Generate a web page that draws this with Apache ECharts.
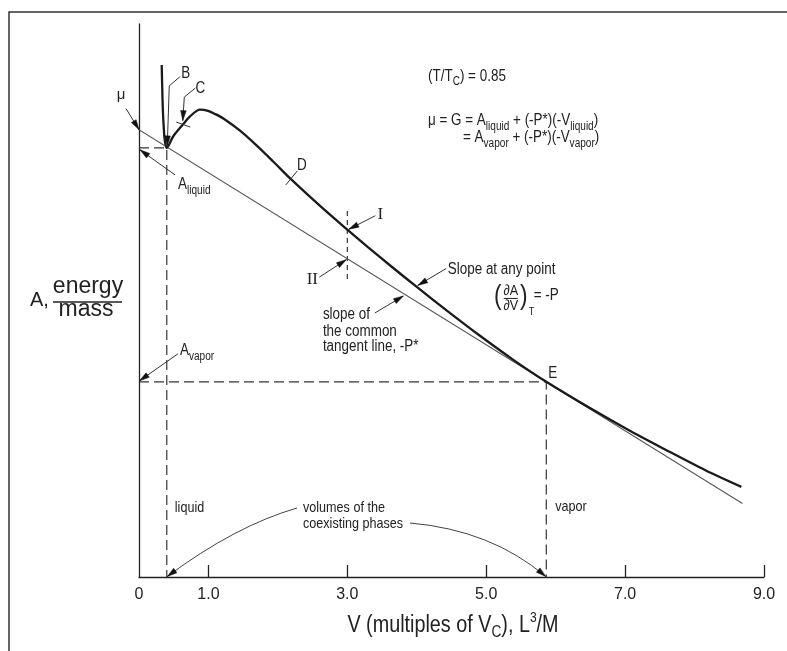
<!DOCTYPE html>
<html><head><meta charset="utf-8">
<script src="https://cdn.jsdelivr.net/npm/echarts@6/dist/echarts.min.js"></script>
<style>html,body{margin:0;padding:0;background:#fff}#c{width:787px;height:651px}</style>
</head><body><div id="c"></div>
<script>
// ---- data ----
const curveV = [0.327, 0.339, 0.350, 0.370, 0.399, 0.494, 0.638, 0.735, 0.879, 0.994, 1.10, 1.215, 1.455, 1.696, 1.935, 2.20, 2.656, 3.0, 3.30, 3.617, 4.00, 4.48, 4.91, 5.39, 5.865, 6.50, 7.075, 7.555, 8.156, 8.674];
const curveA = [9.26, 8.63, 8.27, 7.91, 7.76, 7.97, 8.19, 8.33, 8.45, 8.43, 8.37, 8.29, 8.07, 7.80, 7.51, 7.18, 6.655, 6.28, 5.96, 5.633, 5.245, 4.772, 4.362, 3.927, 3.53, 3.05, 2.64, 2.32, 1.93, 1.63];
const tangentV = [-0.08, 8.69];
const tangentA = [8.15, 1.33];
const MU = 8.09;
const V_LIQUID = 0.40, A_LIQUID = 7.76;
const V_VAPOR = 5.865, A_VAPOR = 3.53;
const V_MARK = 3.0, A_MARK_TOP = 6.62, A_MARK_BOTTOM = 5.37;
const A_II = 5.757;
const C_POINT = [0.638, 8.19];
const D_POINT = [2.20, 7.18];
const I_POINT = [3.0, 6.28];
const SLOPE_POINT = [4.00, 5.245];
const TANGENT_POINT = [3.80, 5.136];
const xTickValues = [1, 3, 5, 7, 9];
const xLabelValues = [0, 1, 3, 5, 7, 9];

const INK = '#222';
const SANS = "'Liberation Sans',Arial,sans-serif";
const SERIF = "'Liberation Serif','Times New Roman',serif";
const SX = 0.84; // horizontal condensing of the annotation lettering

const chart = echarts.init(document.getElementById('c'), null, {renderer: 'canvas'});
const zip = (xs, ys) => xs.map((x, i) => [x, ys[i]]);

chart.setOption({
  backgroundColor: '#fff',
  animation: false,
  grid: {left: 139, right: 23, top: 24, bottom: 74},
  xAxis: {
    type: 'value', min: 0, max: 9, interval: 1,
    axisLine: {lineStyle: {color: INK, width: 1.3}},
    axisTick: {show: true, customValues: xTickValues, inside: true, length: 12, lineStyle: {color: INK, width: 1.3}},
    axisLabel: {customValues: xLabelValues, margin: 10, color: INK, fontSize: 16, fontFamily: SANS,
      formatter: v => v === 0 ? '0' : v.toFixed(1)},
    splitLine: {show: false}
  },
  yAxis: {
    type: 'value', min: 0, max: 10,
    axisLine: {show: true, lineStyle: {color: INK, width: 1.3}},
    axisTick: {show: false}, axisLabel: {show: false}, splitLine: {show: false}
  },
  series: [
    {type: 'line', data: zip(curveV, curveA), smooth: 0.3, showSymbol: false,
      lineStyle: {color: '#1a1a1a', width: 2.3}, z: 5},
    {type: 'line', data: zip(tangentV, tangentA), showSymbol: false, clip: false,
      lineStyle: {color: '#555', width: 1.1}, z: 4},
    {type: 'line', data: [[0, A_LIQUID], [V_LIQUID, A_LIQUID], [V_LIQUID, 0]], showSymbol: false,
      lineStyle: {color: '#333', width: 1.2, type: [10, 5]}},
    {type: 'line', data: [[0, A_VAPOR], [V_VAPOR, A_VAPOR], [V_VAPOR, 0]], showSymbol: false,
      lineStyle: {color: '#333', width: 1.2, type: [10, 5]}},
    {type: 'line', data: [[V_MARK, A_MARK_TOP], [V_MARK, A_MARK_BOTTOM]], showSymbol: false,
      lineStyle: {color: '#333', width: 1.2, type: [5, 4]}}
  ]
});

// ---- annotations ----
const P = (v, a) => chart.convertToPixel({gridIndex: 0}, [v, a]);
const ctx = document.createElement('canvas').getContext('2d');
function tw(t, size, fam) { ctx.font = size + 'px ' + fam; return ctx.measureText(t).width; }
function txt(x, y, t, size, fam, align, sx) {
  return {type: 'text', x: x, y: y, silent: true, z: 10, scaleX: sx == null ? SX : sx, originX: 0, originY: 0,
    style: {text: t, fontSize: size, fontFamily: fam || SANS, fill: INK,
      align: align || 'left', verticalAlign: 'middle', textAlign: align || 'left', textVerticalAlign: 'middle'}};
}
function runs(x, y, parts, center, sx) {
  const s = sx == null ? SX : sx;
  let total = 0;
  parts.forEach(p => { total += tw(p[0], p[1], SANS) * s; });
  let cx = center ? x - total / 2 : x;
  const els = [];
  parts.forEach(p => {
    els.push(txt(cx, y + (p[2] || 0), p[0], p[1], SANS, 'left', s));
    cx += tw(p[0], p[1], SANS) * s;
  });
  return els;
}
function head(tip, from) {
  const dx = tip[0] - from[0], dy = tip[1] - from[1];
  const L = Math.hypot(dx, dy) || 1, ux = dx / L, uy = dy / L;
  const len = 10, w = 2.8;
  const bx = tip[0] - ux * len, by = tip[1] - uy * len;
  return {type: 'polygon', silent: true, z: 11,
    shape: {points: [tip, [bx - uy * w, by + ux * w], [bx + uy * w, by - ux * w]]},
    style: {fill: '#111', stroke: '#111', lineWidth: 0.5}};
}
function arrow(pts) {
  return [
    {type: 'polyline', silent: true, z: 10, shape: {points: pts}, style: {stroke: '#333', lineWidth: 1, fill: null}},
    head(pts[pts.length - 1], pts[pts.length - 2])
  ];
}
function curveArrow(a, c, b) {
  return [
    {type: 'bezierCurve', silent: true, z: 10, shape: {x1: a[0], y1: a[1], cpx1: c[0], cpy1: c[1], x2: b[0], y2: b[1]},
      style: {stroke: '#444', lineWidth: 1, fill: null}},
    head(b, c)
  ];
}
const add = (arr, items) => items.forEach(i => arr.push(i));

const g = [];
// frame
g.push({type: 'rect', silent: true, shape: {x: 9, y: 12, width: 900, height: 800},
  style: {fill: null, stroke: '#333', lineWidth: 1.5}});

// mu
const mu = P(0, MU);
add(g, arrow([[mu[0] - 13, mu[1] - 21], [mu[0], mu[1]]]));
g.push(txt(mu[0] - 18, mu[1] - 35, 'μ', 15, SANS, 'center', 1));

// B
const b = P(V_LIQUID, A_LIQUID);
add(g, arrow([[b[0] + 13, b[1] - 71], [b[0] + 2.5, b[1] - 62], [b[0] + 0.5, b[1] - 2]]));
g.push(txt(b[0] + 19, b[1] - 74, 'B', 16, SANS, 'center'));

// C
const c = P(C_POINT[0], C_POINT[1]);
add(g, arrow([[c[0] + 12, c[1] - 36], [c[0] + 1, c[1] - 27], [c[0] - 0.5, c[1] - 3.5]]));
g.push(txt(c[0] + 17, c[1] - 35, 'C', 16, SANS, 'center'));
g.push({type: 'line', silent: true, z: 10, shape: {x1: c[0] - 7, y1: c[1] - 2, x2: c[0] + 7, y2: c[1] + 3}, style: {stroke: '#333', lineWidth: 1}});

// D
const d = P(D_POINT[0], D_POINT[1]);
g.push({type: 'line', silent: true, z: 10, shape: {x1: d[0] - 6, y1: d[1] + 5, x2: d[0] + 5.5, y2: d[1] - 9}, style: {stroke: '#333', lineWidth: 1}});
g.push(txt(d[0] + 10, d[1] - 14, 'D', 16, SANS, 'center'));

// A liquid
const al = P(0, A_LIQUID);
add(g, arrow([[al[0] + 36, al[1] + 27], [al[0] + 1, al[1] + 2]]));
add(g, runs(al[0] + 39, al[1] + 37, [['A', 16], ['liquid', 12, 6]]));

// A vapor
const av = P(0, A_VAPOR);
add(g, arrow([[av[0] + 39, av[1] - 28], [av[0] + 0.5, av[1] - 1]]));
add(g, runs(av[0] + 41, av[1] - 31, [['A', 16], ['vapor', 12, 6]]));

// I and II
const ip = P(I_POINT[0], I_POINT[1]);
add(g, arrow([[ip[0] + 28, ip[1] - 14], [ip[0] + 1.5, ip[1] - 0.5]]));
g.push(txt(ip[0] + 33, ip[1] - 15, 'I', 17, SERIF, 'center', 1));
const ii = P(V_MARK, A_II);
add(g, arrow([[ii[0] - 28, ii[1] + 18.5], [ii[0] - 1, ii[1] + 1]]));
g.push(txt(ii[0] - 35, ii[1] + 21, 'II', 17, SERIF, 'center', 1));

// Slope at any point
const sp = P(SLOPE_POINT[0], SLOPE_POINT[1]);
add(g, arrow([[sp[0] + 29.5, sp[1] - 18.5], [sp[0] + 1, sp[1] - 1.5]]));
const sx = sp[0] + 31, sy = sp[1] - 17;
g.push(txt(sx, sy, 'Slope at any point', 16, SANS));
g.push(txt(sx + 50, sy + 27, '(', 27, SANS, 'center'));
g.push(txt(sx + 63, sy + 21, '∂A', 15, SANS, 'center'));
g.push({type: 'line', silent: true, z: 10, shape: {x1: sx + 56, y1: sy + 28.5, x2: sx + 70, y2: sy + 28.5}, style: {stroke: INK, lineWidth: 1}});
g.push(txt(sx + 63, sy + 35.5, '∂V', 15, SANS, 'center'));
g.push(txt(sx + 76, sy + 27, ')', 27, SANS, 'center'));
g.push(txt(sx + 81, sy + 42, 'T', 11, SANS, 'left'));
g.push(txt(sx + 86, sy + 26, '= -P', 16, SANS, 'left'));

// slope of the common tangent line
const tp = P(TANGENT_POINT[0], TANGENT_POINT[1]);
add(g, arrow([[tp[0] - 28, tp[1] + 20], [tp[0] + 0.5, tp[1] + 3]]));
g.push(txt(tp[0] - 80, tp[1] + 22, 'slope of', 16, SANS));
g.push(txt(tp[0] - 80, tp[1] + 38.5, 'the common', 16, SANS));
g.push(txt(tp[0] - 80, tp[1] + 54, 'tangent line, -P*', 16, SANS));

// E
const e = P(V_VAPOR, A_VAPOR);
g.push(txt(e[0] + 6.5, e[1] - 8, 'E', 16, SANS, 'center'));

// liquid / vapor / volumes
const bl = P(V_LIQUID, 0), bv = P(V_VAPOR, 0);
g.push(txt(bl[0] + 8, 508, 'liquid', 15, SANS));
g.push(txt(bv[0] + 9, 507, 'vapor', 15, SANS));
g.push(txt(303, 508, 'volumes of the', 15, SANS));
g.push(txt(303, 524, 'coexisting phases', 15, SANS));
add(g, curveArrow([297, 508], [235, 526], [bl[0] + 0.5, bl[1] - 0.5]));
add(g, curveArrow([410, 523], [491, 530], [bv[0] - 0.5, bv[1] - 0.5]));

// top-right text
add(g, runs(428, 77, [['(T/T', 16], ['C', 12, 5], [') = 0.85', 16]]));
add(g, runs(428, 121, [['μ = G = A', 16], ['liquid', 12, 6], [' + (-P*)(-V', 16], ['liquid', 12, 6], [')', 16]]));
add(g, runs(463, 138, [['= A', 16], ['vapor', 12, 6], [' + (-P*)(-V', 16], ['vapor', 12, 6], [')', 16]]));

// axis titles
add(g, runs(453, 626, [['V (multiples of V', 23], ['C', 16, 7], ['), L', 23], ['3', 14, -8], ['/M', 23]], true, 0.86));
g.push(txt(30, 300, 'A,', 20, SANS, 'left', 1));
g.push(txt(88, 287, 'energy', 23, SANS, 'center', 1));
g.push({type: 'line', silent: true, z: 10, shape: {x1: 53, y1: 302, x2: 122, y2: 302}, style: {stroke: INK, lineWidth: 1.5}});
g.push(txt(86, 309.5, 'mass', 23, SANS, 'center', 1));

chart.setOption({graphic: g});
</script></body></html>
